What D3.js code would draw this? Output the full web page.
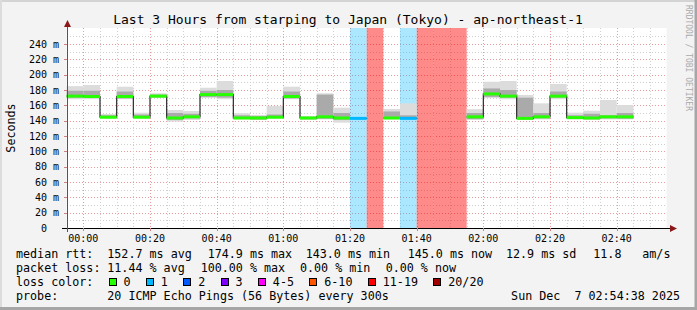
<!DOCTYPE html>
<html><head><meta charset="utf-8">
<script src="https://cdn.jsdelivr.net/npm/d3@7"></script>
<style>
body{margin:0;background:#f3f3f3}
svg{display:block}
text{font-family:"DejaVu Sans Mono",monospace;fill:#000}
</style>
</head><body><svg id="c" width="697" height="310"></svg>
<script>
// ---------- data ----------
const titleText = "Last 3 Hours from starping to Japan (Tokyo) - ap-northeast-1";
const yAxisTitle = "Seconds";
const startUTC = [2025, 11, 6, 23, 55];   // first 5-minute bin
const spanMinutes = 180;
const stepMinutes = 5;
const xTickLabels = ["00:00","00:20","00:40","01:00","01:20","01:40","02:00","02:20","02:40"];
const yTickValues = [0,20,40,60,80,100,120,140,160,180,200,220,240];
const yGridValues = [10,20,30,40,50,60,70,80,90,100,110,120,130,140,150,160,170,180,190,200,210,220,230,240,250];

// median rtt per 5-min step (ms); null = all pings lost
const medianMs = [172.0,171.5,144.5,171.5,144.5,172.0,143.5,145.0,174.0,174.0,143.5,143.5,144.5,171.5,143.5,145.0,143.5,143.0,null,143.5,143.0,null,null,null,145.0,174.9,172.0,143.0,145.0,172.0,144.0,143.5,145.0,145.0];
// lost pings out of 20
const lossPings = [0,0,0,0,0,0,0,0,0,0,0,0,0,0,0,0,0,1,20,0,1,20,20,20,0,0,0,0,0,0,0,0,0,0];
// smoke: outer (min/max ping) and inner (denser) ranges, ms
const smokeMinMs = [168,168,143,168,143,169.5,138.7,140.9,169.5,168,141.7,140.9,143,168,140.9,141.7,137.4,null,null,141.7,143,null,null,null,141,169.5,168,140.9,141.7,168,141.7,140.9,141.7,141.7];
const smokeMaxMs = [185,186.5,148.7,184.3,150.4,175.7,153.9,152.6,183,191.7,149.6,147.4,159.1,184.3,146,175.7,156.9,null,null,155.2,162.6,null,null,null,155,190.8,191.7,173.5,162.6,187.8,150.4,153,167,160.4];
const smokeLoMs  = [170,170,143.5,169,143.5,170.5,141,143,171,170,142.5,141.5,143.5,169,142,142.5,141,null,null,142.5,143.5,null,null,null,142,171,170,142,143,170,142.5,142,143,142.5];
const smokeHiMs  = [179,179,147,178,148,174,150,149,179,180,147,146,148,178,145,174,150,null,null,152,147,null,null,null,150,182,180,170,150,178,147,149,147,150];

const lossLegendLabels = ["0","1","2","3","4-5","6-10","11-19","20/20"];
const lossLegendColors = ["#26ff00","#00b8ff","#0059ff","#7e00ff","#ff00ff","#ff5500","#ff0000","#a10000"];
const lossLegendUpper  = [0,1,2,3,5,10,19,20];

const rttStatValues = ["152.7","174.9","143.0","145.0","12.9"];
const rttStatLabels = ["ms avg","ms max","ms min","ms now","ms sd"];
const amsValue = "11.8";
const lossStatValues = ["11.44","100.00","0.00","0.00"];
const lossStatLabels = ["% avg","% max","% min","% now"];
const probeText = "20 ICMP Echo Pings (56 Bytes) every 300s";
const dateText = "Sun Dec  7 02:54:38 2025";
const watermark = "RRDTOOL / TOBI OETIKER";

// ---------- drawing ----------
const W = 697, H = 310;
const svg = d3.select("#c");
const t0 = new Date(Date.UTC(...startUTC));
const t1 = new Date(t0.getTime() + spanMinutes*60000);
const x = d3.scaleUtc().domain([t0, t1]).range([66.67, 666.67]);
const y = d3.scaleLinear().domain([0, 240]).range([228, 44]);
const plotTop = 28, plotBottom = y(0);
const tAt = i => new Date(t0.getTime() + i*stepMinutes*60000);
const px = v => Math.round(v) + 0.5;

const lossColor = n => { for (let k=0;k<lossLegendUpper.length;k++) if (n <= lossLegendUpper[k]) return lossLegendColors[k]; return lossLegendColors[7]; };
const bandColor = n => n === 0 ? null : (n <= 1 ? "rgba(0,184,255,0.33)" : "rgba(255,0,0,0.46)");

// background + border
svg.append("rect").attr("width", W).attr("height", H).attr("fill", "#f3f3f3");
svg.append("rect").attr("x",0).attr("y",0).attr("width",W).attr("height",2).attr("fill","#d4d4d4");
svg.append("rect").attr("x",0).attr("y",0).attr("width",2).attr("height",H).attr("fill","#dcdcdc");
svg.append("rect").attr("x",0).attr("y",H-3).attr("width",W).attr("height",3).attr("fill","#a6a6a6");
svg.append("rect").attr("x",W-2.5).attr("y",0).attr("width",2.5).attr("height",H).attr("fill","#a6a6a6");

// plot canvas
svg.append("rect").attr("x", x(t0)).attr("y", plotTop).attr("width", x(t1)-x(t0)).attr("height", plotBottom-plotTop).attr("fill", "#fff");

// grid
const g = svg.append("g").attr("shape-rendering","crispEdges");
yGridValues.forEach(v => {
  const major = v % 20 === 0;
  g.append("line").attr("x1", x(t0)).attr("x2", x(t1)).attr("y1", px(y(v))).attr("y2", px(y(v)))
    .attr("stroke", major ? "#e99a9a" : "#cfcfcf").attr("stroke-dasharray","1,2");
});
d3.range(1, spanMinutes/stepMinutes).forEach(i => {
  const t = tAt(i);
  const major = t.getUTCMinutes() % 20 === 0;
  g.append("line").attr("x1", px(x(t))).attr("x2", px(x(t))).attr("y1", plotTop).attr("y2", plotBottom)
    .attr("stroke", major ? "#e99a9a" : "#cfcfcf").attr("stroke-dasharray","1,2");
});

// loss bands
medianMs.forEach((m, i) => {
  const c = bandColor(lossPings[i]);
  if (!c) return;
  svg.append("rect").attr("x", x(tAt(i))).attr("width", x(tAt(i+1)) - x(tAt(i)))
    .attr("y", plotTop).attr("height", plotBottom - plotTop).attr("fill", c);
});

// smoke
medianMs.forEach((m, i) => {
  if (smokeMinMs[i] == null) return;
  const x0 = x(tAt(i)), w = x(tAt(i+1)) - x0;
  svg.append("rect").attr("x", x0).attr("width", w).attr("y", y(smokeMaxMs[i])).attr("height", y(smokeMinMs[i]) - y(smokeMaxMs[i])).attr("fill", "#dcdcdc");
  svg.append("rect").attr("x", x0).attr("width", w).attr("y", y(smokeHiMs[i])).attr("height", y(smokeLoMs[i]) - y(smokeHiMs[i])).attr("fill", "#aaaaaa");
});

// median step line (dark)
const pts = [];
medianMs.forEach((m, i) => { pts.push({t: tAt(i), v: m}); pts.push({t: tAt(i+1), v: m}); });
svg.append("path").attr("d", d3.line().defined(d => d.v != null).x(d => x(d.t)).y(d => y(d.v))(pts))
  .attr("fill","none").attr("stroke","#2a2a2a").attr("stroke-width",1.2);

// loss-coloured median
medianMs.forEach((m, i) => {
  if (m == null) return;
  svg.append("line").attr("x1", x(tAt(i))).attr("x2", x(tAt(i+1))).attr("y1", y(m)).attr("y2", y(m))
    .attr("stroke", lossColor(lossPings[i])).attr("stroke-width", 3);
});

// axes
svg.append("line").attr("x1", 62).attr("x2", 671).attr("y1", px(plotBottom)).attr("y2", px(plotBottom)).attr("stroke","#000").attr("shape-rendering","crispEdges");
svg.append("line").attr("x1", px(x(t0))).attr("x2", px(x(t0))).attr("y1", plotBottom+4).attr("y2", 25).attr("stroke","#555").attr("shape-rendering","crispEdges");
svg.append("path").attr("d", `M${px(x(t0))-3.5},27 L${px(x(t0))},20 L${px(x(t0))+3.5},27 Z`).attr("fill","#8a1818");
svg.append("path").attr("d", `M670,${px(plotBottom)-3.5} L677,${px(plotBottom)} L670,${px(plotBottom)+3.5} Z`).attr("fill","#8a1818");

// ticks on axes
yTickValues.forEach(v => {
  if (v === 0) return;
  svg.append("line").attr("x1", 64).attr("x2", 67).attr("y1", px(y(v))).attr("y2", px(y(v))).attr("stroke","#d08080").attr("shape-rendering","crispEdges");
});
xTickLabels.forEach(lbl => {
  const [hh, mm] = lbl.split(":").map(Number);
  const t = new Date(Date.UTC(2025, 11, 7, hh, mm));
  svg.append("line").attr("x1", px(x(t))).attr("x2", px(x(t))).attr("y1", plotBottom).attr("y2", plotBottom+3).attr("stroke","#d08080").attr("shape-rendering","crispEdges");
  svg.append("text").attr("x", x(t)).attr("y", 241.5).attr("text-anchor","middle").attr("font-size", 10).text(lbl);
});

// y labels
yTickValues.forEach(v => {
  const isZero = v === 0;
  svg.append("text").attr("x", isZero ? 47 : 59).attr("y", y(v) + 3.6).attr("text-anchor","end").attr("font-size", 10)
    .text(isZero ? "0" : `${v} m`);
});
svg.append("text").attr("transform", "translate(14.5,128) rotate(-90)").attr("text-anchor","middle").attr("font-size", 11.7).text(yAxisTitle);

// title
svg.append("text").attr("x", 348).attr("y", 24).attr("text-anchor","middle").attr("font-size", 13).text(titleText);

// watermark
svg.append("text").attr("transform", "translate(686,5) rotate(90)").attr("font-size", 8).style("fill","#aaaaaa").text(watermark);

// legend
const LF = 11.7;
const leg = (txt, xx, yy) => svg.append("text").attr("x", xx).attr("y", yy).attr("font-size", LF).style("white-space","pre").text(txt);
const L1 = 258, L2 = 272, L3 = 286, L4 = 300;
leg("median rtt:", 16, L1);
const rttX = [107.3, 207.7, 305.7, 407.7, 506];
rttStatValues.forEach((v, k) => leg(`${v} ${rttStatLabels[k]}`, rttX[k], L1));
leg(amsValue, 593.3, L1);
leg("am/s", 642.3, L1);

leg("packet loss:", 16, L2);
const lossX = [107.3, 200.7, 300, 385.7];
lossStatValues.forEach((v, k) => leg(`${v} ${lossStatLabels[k]}`, lossX[k], L2));

leg("loss color:", 16, L3);
let bx = 108.5;
const charW = LF * 0.602;
lossLegendLabels.forEach((lbl, k) => {
  svg.append("rect").attr("x", Math.round(bx)+0.5).attr("y", 278.5).attr("width", 7).attr("height", 7)
    .attr("fill", lossLegendColors[k]).attr("stroke", "#000").attr("stroke-width", 1);
  leg(lbl, bx + 15, L3);
  bx = bx + 15 + lbl.length * charW + 15.3;
});

leg("probe:", 16, L4);
leg(probeText, 107.3, L4);
leg(dateText, 680, L4).attr("text-anchor","end");
</script>
</body></html>
